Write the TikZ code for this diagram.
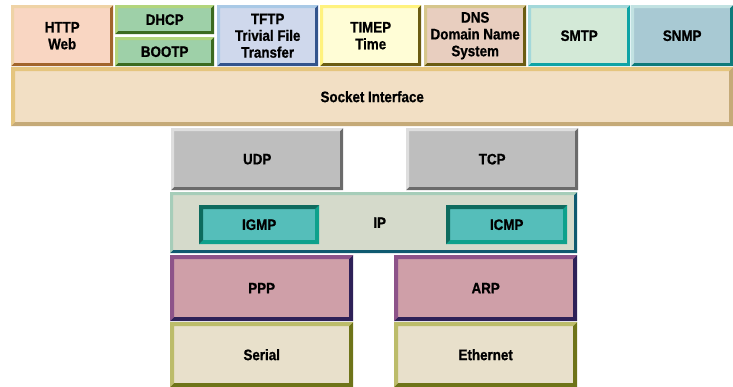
\documentclass[tikz,border=0pt]{standalone}
\usepackage{fontspec}
\setmainfont{Liberation Sans}
\newfontfamily\narrowfont[FakeStretch=0.88,BoldFeatures={FakeBold=0.8}]{Liberation Sans}
\usetikzlibrary{calc}

\newcommand{\layerfont}{\narrowfont\fontsize{15.2}{16.8}\selectfont\bfseries}

\definecolor{httpfill}{HTML}{F9D6C2}
\definecolor{httplite}{HTML}{EFD3A6}
\definecolor{httpdark}{HTML}{A2652B}
\definecolor{dhcpfill}{HTML}{9ED0A8}
\definecolor{dhcplite}{HTML}{B2D57C}
\definecolor{dhcpdark}{HTML}{3B6B1F}
\definecolor{tftpfill}{HTML}{CFD8EC}
\definecolor{tftplite}{HTML}{A9C9E6}
\definecolor{tftpdark}{HTML}{33548C}
\definecolor{timefill}{HTML}{FFFDD6}
\definecolor{timelite}{HTML}{FFF27E}
\definecolor{timedark}{HTML}{6B5C12}
\definecolor{dnsfill}{HTML}{E8CEBF}
\definecolor{dnslite}{HTML}{D6C68C}
\definecolor{smtpfill}{HTML}{D3E9D7}
\definecolor{smtplite}{HTML}{A3D8DA}
\definecolor{smtpdark}{HTML}{0EA3A5}
\definecolor{snmpfill}{HTML}{A8C9D3}
\definecolor{snmplite}{HTML}{C2E2E2}
\definecolor{snmpdark}{HTML}{0E7A7A}
\definecolor{sockfill}{HTML}{F2DFC4}
\definecolor{socklite}{HTML}{E5C57E}
\definecolor{sockdark}{HTML}{C5AA78}
\definecolor{udpfill}{HTML}{BEBEBE}
\definecolor{udplite}{HTML}{DEDEDE}
\definecolor{udpdark}{HTML}{6B6B6B}
\definecolor{ipfill}{HTML}{D5DACB}
\definecolor{iplite}{HTML}{A6CDB9}
\definecolor{ipdark}{HTML}{0F5A70}
\definecolor{igmpfill}{HTML}{55BEBA}
\definecolor{igmplite}{HTML}{0EA18C}
\definecolor{igmpdark}{HTML}{0E6B5E}
\definecolor{pppfill}{HTML}{CF9FA8}
\definecolor{ppplite}{HTML}{8D5389}
\definecolor{pppdark}{HTML}{2E2158}
\definecolor{serfill}{HTML}{E8E0CB}
\definecolor{serlite}{HTML}{BCBC6A}
\definecolor{serdark}{HTML}{6E7419}

\tikzset{
  bw/.store in=\bw, bw=3pt,
  % fill, light edge (top/left), dark edge (bottom/right)
  layer/.style n args={3}{rectangle, inner sep=0pt, anchor=north west,
    align=center, font=\layerfont, fill=#1,
    path picture={
      \coordinate (sw) at (path picture bounding box.south west);
      \coordinate (ne) at (path picture bounding box.north east);
      \fill[#2] (sw) |- (ne) -- ++(-\bw,-\bw) -| ($(sw)+(\bw,\bw)$) -- cycle;
      \fill[#3] (sw) -| (ne) -- ++(-\bw,-\bw) |- ($(sw)+(\bw,\bw)$) -- cycle;
    }},
}

\begin{document}
\begin{tikzpicture}[x=1pt,y=-1pt]
\useasboundingbox (0,0) rectangle (733,387);

% application layer
\node[layer={httpfill}{httplite}{httpdark}, minimum width=102pt, minimum height=61pt] (http) at (11,5) {HTTP\\Web};
\node[layer={dhcpfill}{dhcplite}{dhcpdark}, minimum width=99pt, minimum height=29pt] (dhcp) at (115,5) {DHCP};
\node[layer={dhcpfill}{dhcplite}{dhcpdark}, minimum width=99pt, minimum height=29pt] (bootp) at (115,37) {BOOTP};
\node[layer={tftpfill}{tftplite}{tftpdark}, minimum width=101pt, minimum height=61pt] (tftp) at (217,5) {TFTP\\Trivial File\\Transfer};
\node[layer={timefill}{timelite}{timedark}, minimum width=101pt, minimum height=61pt] (timep) at (320,5) {TIMEP\\Time};
\node[layer={dnsfill}{dnslite}{timedark}, minimum width=102pt, minimum height=61pt] (dns) at (424,5) {DNS\\Domain Name\\System};
\node[layer={smtpfill}{smtplite}{smtpdark}, minimum width=102pt, minimum height=61pt] (smtp) at (528,5) {SMTP};
\node[layer={snmpfill}{snmplite}{snmpdark}, minimum width=102pt, minimum height=61pt] (snmp) at (631,5) {SNMP};

\node[layer={sockfill}{socklite}{sockdark}, bw=4pt, minimum width=722pt, minimum height=59pt] (socket) at (11,67) {Socket Interface};

% transport layer
\node[layer={udpfill}{udplite}{udpdark}, minimum width=172pt, minimum height=62pt] (udp) at (171,128) {UDP};
\node[layer={udpfill}{udplite}{udpdark}, minimum width=172pt, minimum height=62pt] (tcp) at (406,128) {TCP};

% internet layer
\node[layer={ipfill}{iplite}{ipdark}, minimum width=407pt, minimum height=61pt] (ip) at (170,192) {\hspace*{12pt}IP};
\node[layer={igmpfill}{igmpdark}{igmplite}, bw=4pt, minimum width=120pt, minimum height=39pt] (igmp) at (199,205) {IGMP};
\node[layer={igmpfill}{igmpdark}{igmplite}, bw=4pt, minimum width=121pt, minimum height=39pt] (icmp) at (446,205) {ICMP};

% link layer
\node[layer={pppfill}{ppplite}{pppdark}, bw=4pt, minimum width=183pt, minimum height=66pt] (ppp) at (170,255) {PPP};
\node[layer={pppfill}{ppplite}{pppdark}, bw=4pt, minimum width=183pt, minimum height=66pt] (arp) at (394,255) {ARP};
\node[layer={serfill}{serlite}{serdark}, bw=4pt, minimum width=183pt, minimum height=65pt] (serial) at (170,322) {Serial};
\node[layer={serfill}{serlite}{serdark}, bw=4pt, minimum width=183pt, minimum height=65pt] (ethernet) at (394,322) {Ethernet};
\end{tikzpicture}
\end{document}
